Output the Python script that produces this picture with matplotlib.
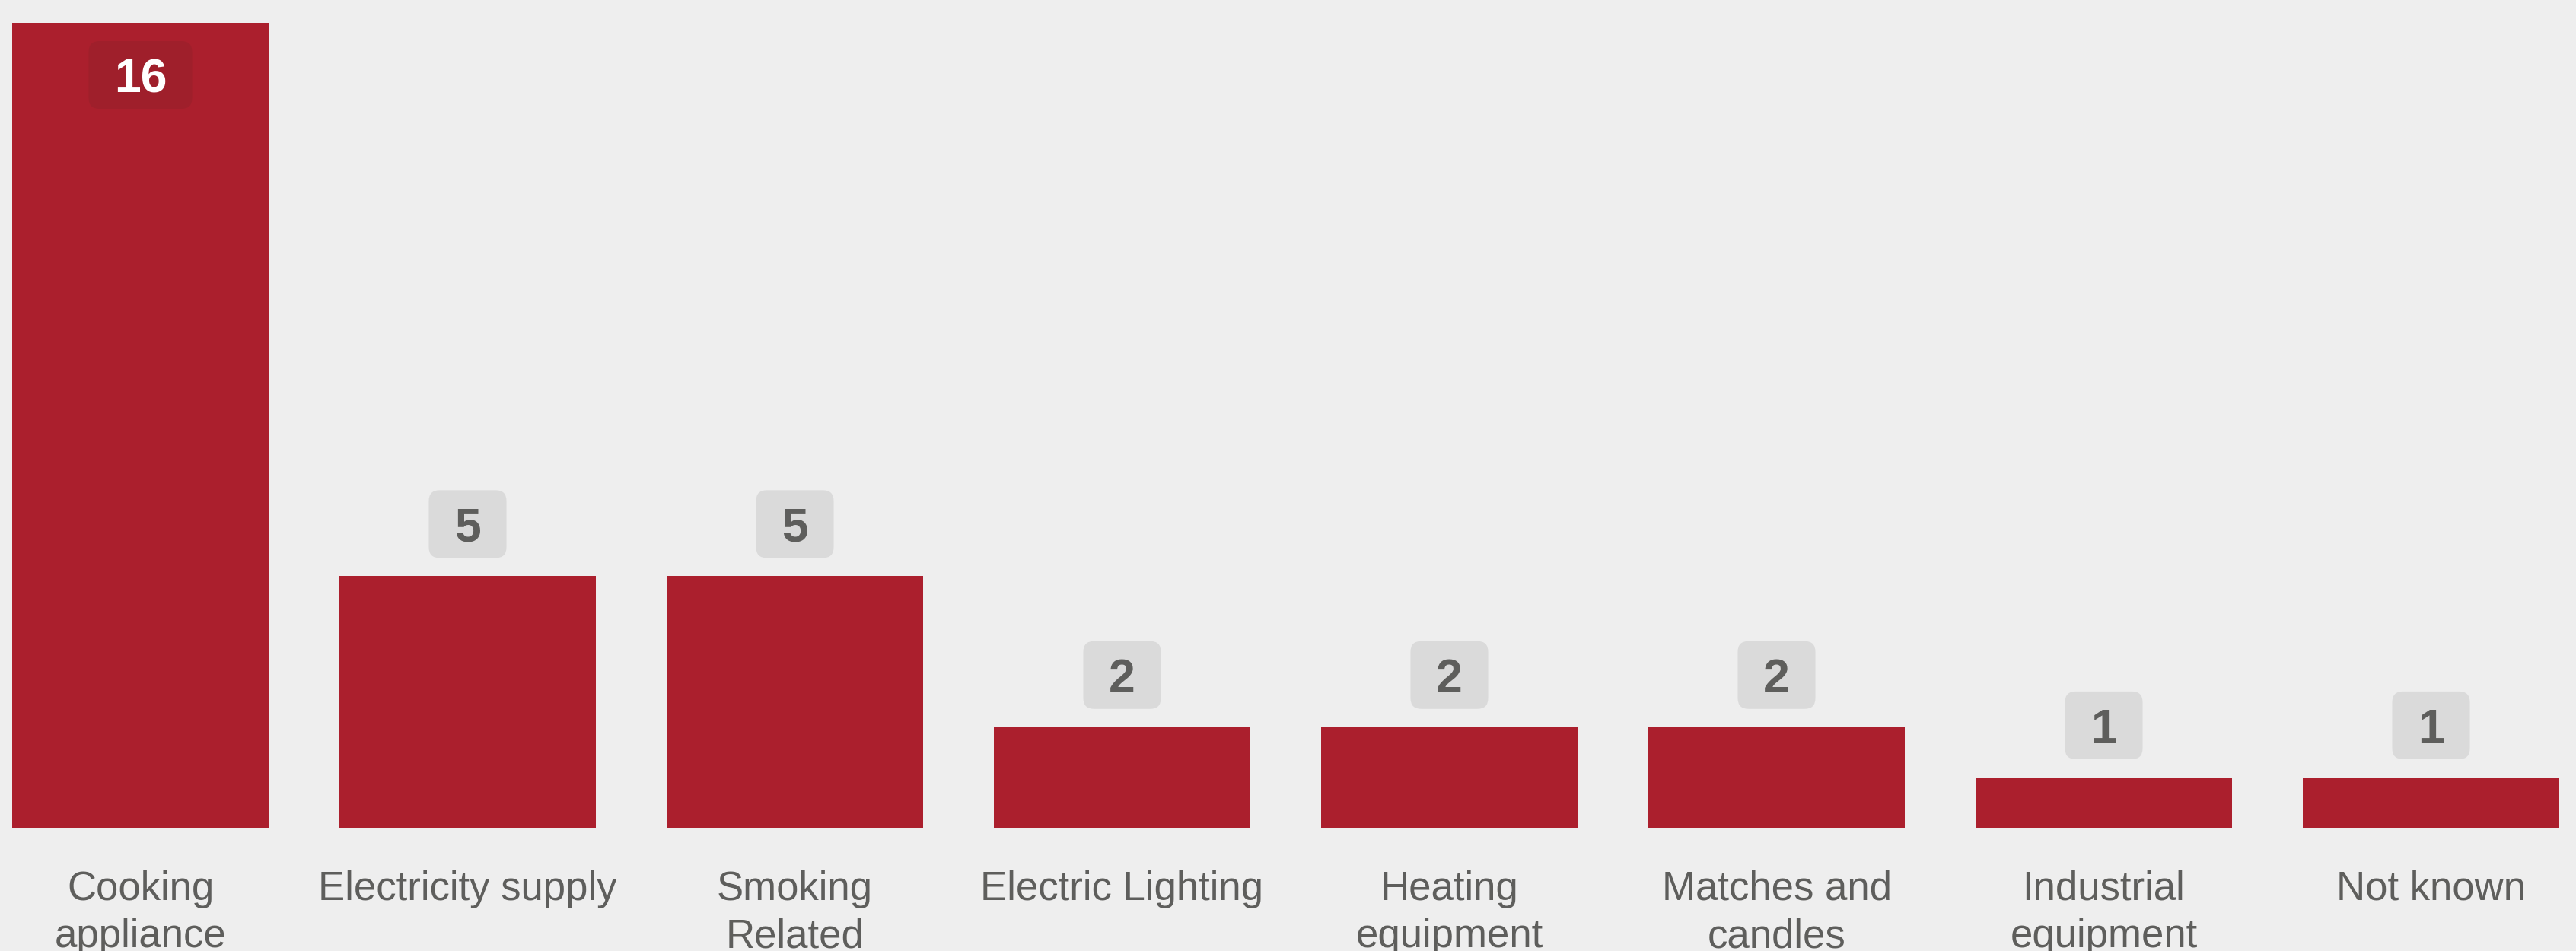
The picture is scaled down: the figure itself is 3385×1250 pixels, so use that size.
import matplotlib
matplotlib.use('Agg')
import matplotlib.pyplot as plt
from matplotlib.patches import FancyBboxPatch
import numpy as np

plt.rcParams['font.family'] = ['Liberation Sans', 'DejaVu Sans']

causes = ['Cooking\nappliance', 'Electricity supply', 'Smoking\nRelated',
          'Electric Lighting', 'Heating\nequipment', 'Matches and\ncandles',
          'Industrial\nequipment', 'Not known']
counts = [16, 5, 5, 2, 2, 2, 1, 1]

BG = '#eeeeee'
RED = '#ab1f2d'
RED_DARK = '#9f1f2b'
BOX = '#dadada'
TXT = '#5e5e5c'

W, H = 3385, 1250
fig = plt.figure(figsize=(W / 100, H / 100), dpi=100, facecolor=BG)

# axes placed so bar pitch ~430px, zero line at y=1088px, 16 at y=30px
x0_px, pitch = 184.5, 430.0
ax = fig.add_axes([0, (H - 1088) / H, 1, (1088 - 30) / H])
ax.set_facecolor(BG)
ax.set_xlim(-x0_px / pitch, (W - x0_px) / pitch)
ax.set_ylim(0, max(counts))

x = np.arange(len(causes))
ax.bar(x, counts, width=0.783, color=RED, zorder=2)

# pixel -> data conversions
px_x = 1 / pitch
px_y = max(counts) / (1088 - 30)
aspect = px_y / px_x

box_h = 89 * px_y
offset = (24 + 44.5) * px_y
for xi, v in zip(x, counts):
    label = str(v)
    bw = (68 + 34 * len(label)) * px_x
    inside = v == max(counts)
    cy = v - offset if inside else v + offset
    patch = FancyBboxPatch((xi - bw / 2, cy - box_h / 2), bw, box_h,
                           boxstyle='round,pad=0,rounding_size=%f' % (14 * px_x),
                           mutation_aspect=aspect,
                           fc=RED_DARK if inside else BOX, ec='none', zorder=3)
    ax.add_patch(patch)
    ax.text(xi, cy, label, ha='center', va='center_baseline', fontsize=45,
            fontweight='bold', color='white' if inside else TXT, zorder=4)

ax.set_xticks(x)
ax.set_xticklabels(causes, fontsize=38, color=TXT, linespacing=1.32)
ax.tick_params(axis='x', length=0, pad=40)
ax.set_yticks([])
for s in ax.spines.values():
    s.set_visible(False)

fig.savefig('out.png', dpi=100, facecolor=BG)
